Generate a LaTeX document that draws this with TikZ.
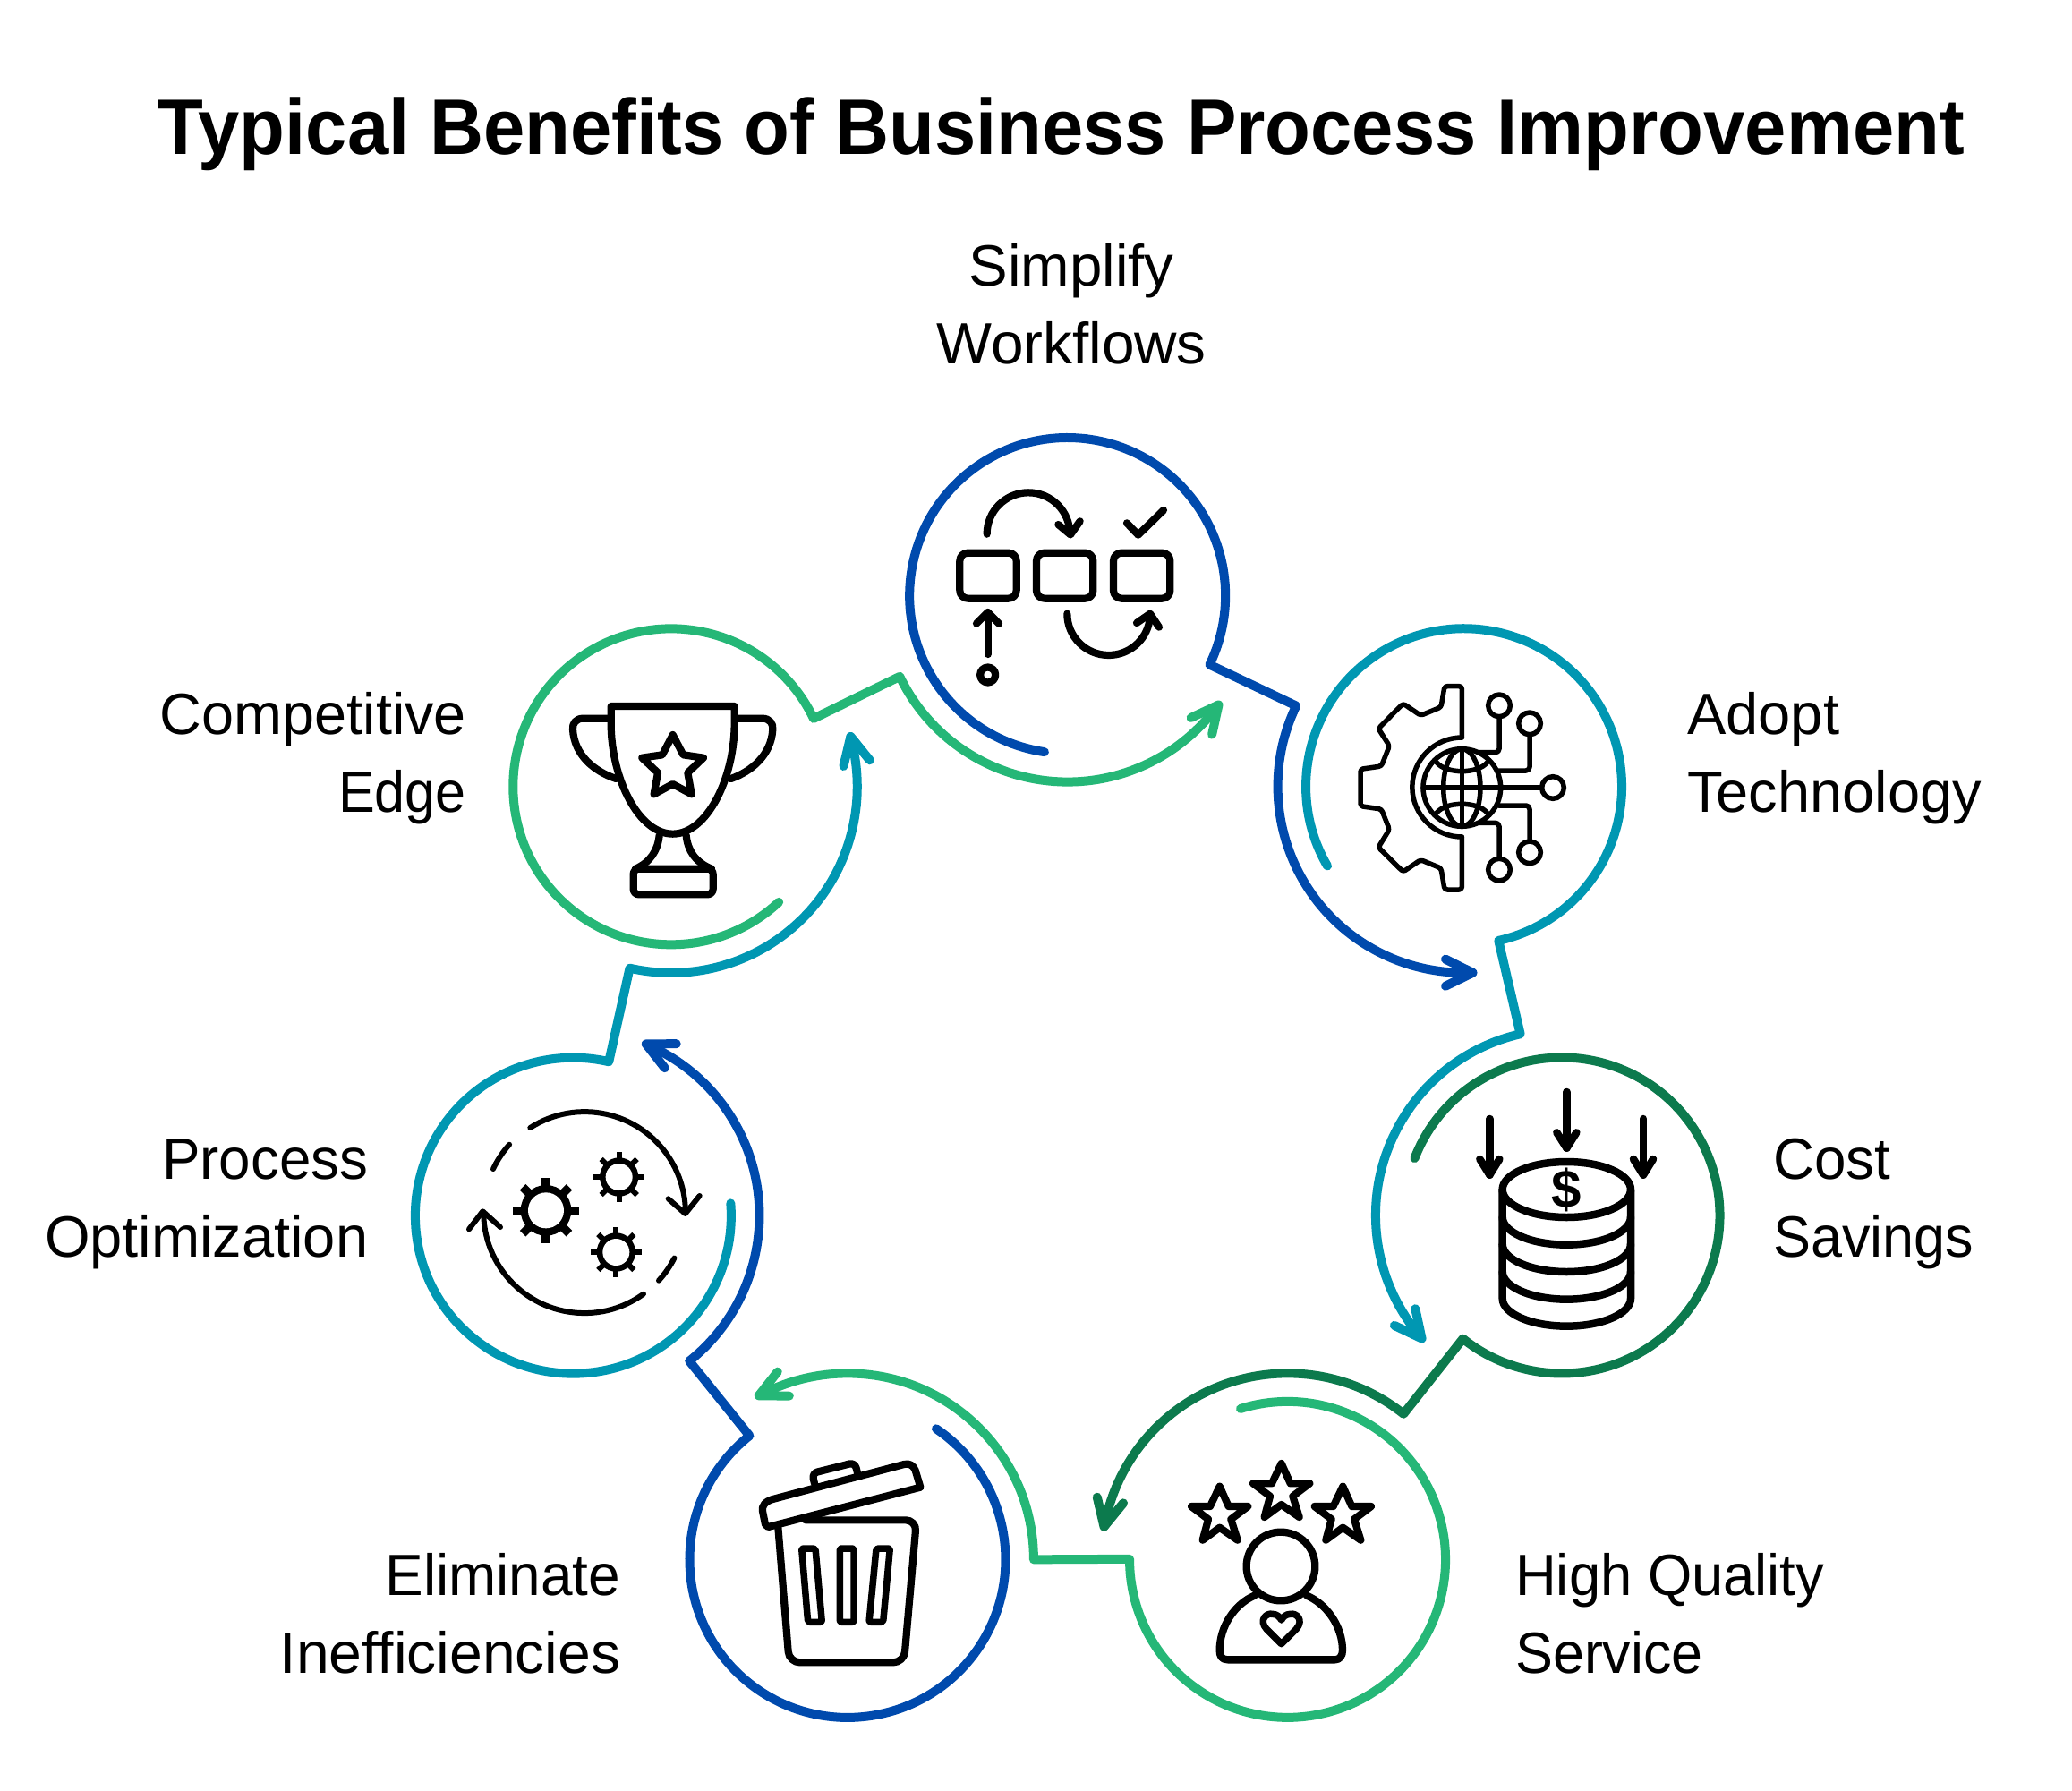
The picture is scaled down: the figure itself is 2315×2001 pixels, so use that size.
\documentclass[tikz,border=0pt]{standalone}
\usepackage{fontspec}
\usepackage{graphicx}
\setmainfont{Liberation Sans}
\definecolor{rblue}{HTML}{004AAD}
\definecolor{rteal}{HTML}{0097B2}
\definecolor{rdark}{HTML}{0C7A4D}
\definecolor{rgreen}{HTML}{25B777}
\tikzset{
  ring/.style={line width=10pt,line cap=round,line join=round},
  lbl/.style={inner sep=0pt,font=\fontsize{65}{87}\selectfont,text=black},
  ico/.style={draw=black,line width=#1pt,line cap=round,line join=round},
  ico/.default=8.2
}
\newcommand{\ringpiece}[2]{%
  \begin{scope}[rotate around={-51.4286*#1:(1192.7,1232)}]
    \coordinate (tail#1) at (1166.9,840.1);
    \coordinate (kneeA#1) at (1448.2,788.6);
    \draw[ring,#2] (tail#1) arc[start angle=98.4,end angle=385.9,radius=176.5] -- (kneeA#1) arc[start angle=205.7,end angle=87.4,radius=208];
    \draw[ring,#2] (1615,1071.7) -- (1645.5,1086.8) -- (1615,1101.7);
  \end{scope}}
\newcommand{\gearicon}[5]{% cx cy outer hole tooth
  \fill[black] (#1,#2) circle[radius=#3];
  \foreach \a in {0,45,90,135}{
    \fill[black,rotate around={\a:(#1,#2)}] ({#1-#5},#2-#4) rectangle ({#1+#5},#2+#4);
  }
}
\begin{document}
\begin{tikzpicture}[x=1pt,y=-1pt]
\useasboundingbox (0,0) rectangle (2315,2001);
\fill[white] (0,0) rectangle (2315,2001);
\node[anchor=base,inner sep=0pt,font=\fontsize{88}{100}\selectfont\bfseries,text=black] (title) at (1186,172.5) {\scalebox{0.945}[1]{Typical Benefits of Business Process Improvement}};
% labels
\node[lbl,anchor=base] (l1) at (1197,319.7) {\scalebox{1.006}[1]{Simplify}};
\node[lbl,anchor=base] (l1b) at (1197,406.7) {\scalebox{1.01}[1]{Workflows}};
\node[lbl,anchor=base west] (l2) at (1885,820.7) {Adopt};
\node[lbl,anchor=base west] (l2b) at (1885,907.7) {Technology};
\node[lbl,anchor=base west] (l3) at (1981,1317.7) {\scalebox{0.98}[1]{Cost}};
\node[lbl,anchor=base west] (l3b) at (1981,1404.7) {\scalebox{0.968}[1]{Savings}};
\node[lbl,anchor=base west] (l4) at (1693,1782.7) {\scalebox{0.975}[1]{High Quality}};
\node[lbl,anchor=base west] (l4b) at (1693,1869.7) {\scalebox{0.966}[1]{Service}};
\node[lbl,anchor=base east] (l5) at (693.5,1782.7) {\scalebox{0.983}[1]{Eliminate}};
\node[lbl,anchor=base east] (l5b) at (693.5,1869.7) {\scalebox{1.016}[1]{Inefficiencies}};
\node[lbl,anchor=base east] (l6) at (411.5,1317.7) {\scalebox{0.98}[1]{Process}};
\node[lbl,anchor=base east] (l6b) at (411.5,1404.7) {Optimization};
\node[lbl,anchor=base east] (l7) at (521,820.7) {\scalebox{0.996}[1]{Competitive}};
\node[lbl,anchor=base east] (l7b) at (521,907.7) {\scalebox{0.94}[1]{Edge}};
% rings
\ringpiece{0}{rblue}
\ringpiece{1}{rteal}
\ringpiece{2}{rdark}
\ringpiece{3}{rgreen}
\ringpiece{4}{rblue}
\ringpiece{5}{rteal}
\ringpiece{6}{rgreen}
% icon 1 workflow
\begin{scope}[shift={(950,450)},x=0.33333pt,y=-0.33333pt]
  \foreach \xa in {367,624,882}{
    \draw[ico,rounded corners=9pt] (\xa,503) rectangle (\xa+190,656);
  }
  \draw[ico] (458,440) arc[start angle=180,end angle=360,radius=139];
  \draw[ico] (697,408) -- (738,442) -- (770,397);
  \draw[ico] (927,403) -- (965,443) -- (1050,360);
  \draw[ico] (461,843) -- (461,702);
  \draw[ico] (423,740) -- (461,702) -- (498,740);
  \draw[ico] (461,912) circle[radius=25.5];
  \draw[ico] (727,707) arc[start angle=180,end angle=10,radius=139];
  \draw[ico] (960,738) -- (1005,707) -- (1035,752);
\end{scope}
% icon 2 technology
\begin{scope}[shift={(1490,750)},x=0.33333pt,y=-0.33333pt]
  \draw[ico=5.5,rounded corners=3pt] (430,222) -- (430,50) -- (372,50) -- (360,120) -- (292,148) -- (233,108) -- (150,192) -- (187,250) -- (160,318) -- (90,328) -- (90,452) -- (160,462) -- (187,530) -- (150,590) -- (233,672) -- (292,632) -- (360,660) -- (372,732) -- (430,732) -- (430,555);
  \draw[ico=5.5] (430,222) arc[start angle=270,end angle=90,radius=166.5];
  \draw[ico=5.5] (430,390) circle[radius=130];
  \draw[ico=5.5] (300,390) -- (697,390);
  \draw[ico=5.5] (430,260) -- (430,520);
  \draw[ico=5.5] (430,390) ellipse[x radius=62,y radius=130];
  \draw[ico=5.5] (345,305) .. controls (375,345) and (485,345) .. (515,305);
  \draw[ico=5.5] (345,475) .. controls (375,435) and (485,435) .. (515,475);
  \draw[ico=5.5] (735,390) circle[radius=37];
  \draw[ico=5.5,rounded corners=4pt] (490,272) -- (555,272) -- (555,155);
  \draw[ico=5.5] (555,115) circle[radius=37];
  \draw[ico=5.5,rounded corners=4pt] (553,333) -- (657,333) -- (657,215);
  \draw[ico=5.5] (657,175) circle[radius=37];
  \draw[ico=5.5,rounded corners=4pt] (553,450) -- (657,450) -- (657,568);
  \draw[ico=5.5] (657,607) circle[radius=37];
  \draw[ico=5.5,rounded corners=4pt] (490,508) -- (555,508) -- (555,625);
  \draw[ico=5.5] (555,665) circle[radius=37];
\end{scope}
% icon 3 cost
\begin{scope}[shift={(1620,1190)},x=0.33333pt,y=-0.33333pt]
  \draw[ico=8.5] (391,417) ellipse[x radius=215,y radius=93];
  \draw[ico=8.5] (176,417) -- (176,782) arc[start angle=180,end angle=0,x radius=215,y radius=93] -- (606,417);
  \foreach \ya in {509,600,692}{
    \draw[ico=8.5] (176,\ya) arc[start angle=180,end angle=0,x radius=215,y radius=93];
  }
  \node[inner sep=0pt,font=\fontsize{60}{60}\selectfont\bfseries] (dollar) at (391,419) {\$};
  \draw[ico=8.5] (391,90) -- (391,278);
  \draw[ico=8.5] (358,226) -- (391,278) -- (424,226);
  \draw[ico=8.5] (133,180) -- (133,368);
  \draw[ico=8.5] (100,315) -- (133,368) -- (166,315);
  \draw[ico=8.5] (648,180) -- (648,368);
  \draw[ico=8.5] (615,315) -- (648,368) -- (681,315);
\end{scope}
% icon 4 quality
\begin{scope}[shift={(1300,1620)},x=0.33333pt,y=-0.33333pt]
  \foreach \dx/\dy in {0/0,-207/77,206/77}{
    \begin{scope}[shift={(\dx,\dy)}]
      \draw[ico] (395,45) -- (425,112) -- (490,112) -- (433,155) -- (455,225) -- (395,183) -- (338,225) -- (357,155) -- (300,112) -- (363,112) -- cycle;
    \end{scope}
  }
  \draw[ico=8.3] (393,390) circle[radius=115];
  \draw[ico=8.3] (305,488) .. controls (240,515) and (188,590) .. (188,672) .. controls (188,690) and (195,703) .. (215,703) -- (575,703) .. controls (590,703) and (600,690) .. (600,672) .. controls (600,590) and (545,515) .. (480,488);
  \draw[ico=7.5] (395,650) -- (345,600) .. controls (318,570) and (345,545) .. (365,550) .. controls (380,550) and (390,560) .. (395,570) .. controls (400,560) and (410,550) .. (425,550) .. controls (445,545) and (472,570) .. (445,600) -- cycle;
\end{scope}
% icon 5 bin
\begin{scope}[shift={(830,1620)},x=0.33333pt,y=-0.33333pt]
  \draw[ico] (85,258) -- (595,125) -- (578,68) .. controls (572,52) and (558,43) .. (540,48) -- (100,165) .. controls (75,172) and (62,188) .. (66,205) -- (75,250) -- cycle;
  \draw[ico,rounded corners=6pt] (240,112) -- (232,78) -- (375,42) -- (385,80);
  \draw[ico,rounded corners=12pt] (118,258) -- (155,712) -- (540,712) -- (582,235) -- (210,235);
  \draw[ico=7.5,rounded corners=2pt] (197,330) -- (243,330) -- (265,577) -- (218,577) -- cycle;
  \draw[ico=7.5,rounded corners=2pt] (325,330) -- (372,330) -- (372,577) -- (325,577) -- cycle;
  \draw[ico=7.5,rounded corners=2pt] (447,330) -- (493,330) -- (470,577) -- (423,577) -- cycle;
\end{scope}
% icon 6 process
\begin{scope}[shift={(500,1220)},x=0.33333pt,y=-0.33333pt]
  \draw[ico=6] (277,120) arc[start angle=237.3,end angle=360,radius=338];
  \draw[ico=6] (740,358) -- (797,408) -- (845,348);
  \draw[ico=6] (153,258) arc[start angle=205.3,end angle=222,radius=338];
  \draw[ico=6] (657,677) arc[start angle=54.1,end angle=180,radius=338];
  \draw[ico=6] (72,460) -- (118,400) -- (177,453);
  \draw[ico=6] (708,632) arc[start angle=42.6,end angle=27,radius=338];
  \gearicon{330}{397}{85}{110}{14}
  \fill[white] (330,397) circle[radius=60];
  \gearicon{575}{285}{65}{85}{9}
  \fill[white] (575,285) circle[radius=45];
  \gearicon{565}{537}{65}{85}{9}
  \fill[white] (565,537) circle[radius=45];
\end{scope}
% icon 7 trophy
\begin{scope}[shift={(600,760)},x=0.33333pt,y=-0.33333pt]
  \draw[ico] (248,87) -- (248,150) .. controls (250,330) and (340,515) .. (455,515) .. controls (570,515) and (660,330) .. (662,150) -- (662,87) -- cycle;
  \draw[ico] (240,128) -- (155,128) .. controls (130,128) and (118,145) .. (120,165) .. controls (125,250) and (190,305) .. (265,330);
  \draw[ico] (670,128) -- (755,128) .. controls (780,128) and (792,145) .. (790,165) .. controls (785,250) and (720,305) .. (650,330);
  \draw[ico] (455,183) -- (490,250) -- (558,260) -- (505,310) -- (518,382) -- (455,348) -- (392,382) -- (405,310) -- (352,260) -- (420,250) -- cycle;
  \draw[ico] (410,520) .. controls (405,570) and (380,610) .. (330,632);
  \draw[ico] (500,520) .. controls (505,570) and (530,610) .. (585,632);
  \draw[ico,rounded corners=6pt] (323,718) -- (323,632) -- (590,632) -- (590,718) -- cycle;
\end{scope}
\end{tikzpicture}
\end{document}
